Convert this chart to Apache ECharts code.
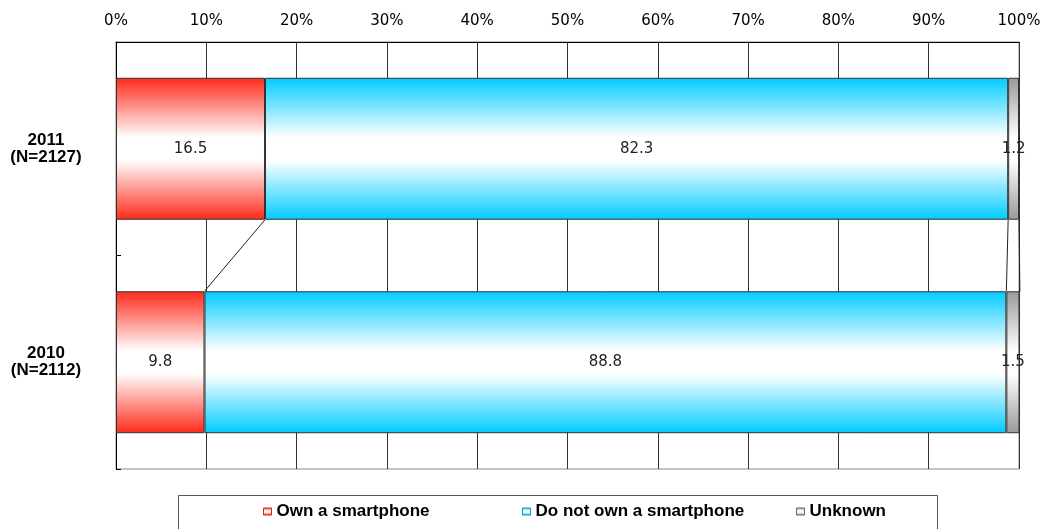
<!DOCTYPE html>
<html>
<head>
<meta charset="utf-8">
<title>Smartphone ownership</title>
<script src="https://cdn.jsdelivr.net/npm/echarts@6/dist/echarts.min.js"></script>
<style>
  html, body { margin: 0; padding: 0; background: #fff; }
  #own_chart { width: 1045px; height: 529px; }
</style>
</head>
<body>
<div id="own_chart"></div>
<script>
// data
var years = ['2011\n(N=2127)', '2010\n(N=2112)']
var seriesNames = ['Own a smartphone', 'Do not own a smartphone', 'Unknown']
var own = [16.5, 9.8]
var notOwn = [82.3, 88.8]
var unknown = [1.2, 1.5]
var pctMin = 0
var pctMax = 100
var pctStep = 10

// layout
var barRatio = 0.665
var legendLeft = [263, 522, 796]
var edgeColors = ['#ff2a1a', '#00ccff', '#999999']
var iconBorders = ['#e02010', '#1a8fc0', '#666666']

function grad(edge) {
  return new echarts.graphic.LinearGradient(0, 0, 0, 1, [
    { offset: 0, color: edge },
    { offset: 0.42, color: '#ffffff' },
    { offset: 0.58, color: '#ffffff' },
    { offset: 1, color: edge },
  ])
}

// 系列線 (cumulative ends of each segment, 2011 -> 2010)
var links = []
var acc0 = 0, acc1 = 0
;[own, notOwn, unknown].forEach(function (arr) {
  acc0 += arr[0]
  acc1 += arr[1]
  links.push([acc0, acc1, 0])
})

function renderLink(params, api) {
  var half = api.size([0, 1])[1] * barRatio / 2
  var a = api.coord([api.value(0), 0])
  var b = api.coord([api.value(1), 1])
  return {
    type: 'line',
    shape: { x1: a[0], y1: a[1] + half, x2: b[0], y2: b[1] - half },
    style: { stroke: '#222', lineWidth: 1 },
  }
}

var own_chart = echarts.init(document.getElementById('own_chart'))

var barSeries = [own, notOwn, unknown].map(function (vals, i) {
  return {
    name: seriesNames[i],
    type: 'bar',
    stack: 'total',
    barWidth: (barRatio * 100) + '%',
    data: vals,
    itemStyle: {
      color: grad(edgeColors[i]),
      borderColor: '#333',
      borderWidth: 1,
    },
    label: {
      show: true,
      position: 'inside',
      formatter: '{c}',
      fontFamily: 'DejaVu Sans',
      fontSize: 15,
      color: '#222',
    },
    emphasis: { disabled: true },
  }
})

var option = {
  animation: false,
  backgroundColor: '#fff',
  grid: {
    left: 116,
    right: 26,
    top: 42,
    bottom: 60,
    show: true,
    borderColor: '#888',
    borderWidth: 1,
    outerBoundsMode: 'none',
  },
  xAxis: {
    type: 'value',
    position: 'top',
    min: pctMin,
    max: pctMax,
    interval: pctStep,
    axisLine: { show: true, lineStyle: { color: '#000', width: 1 } },
    axisTick: { show: false },
    axisLabel: {
      formatter: '{value}%',
      fontFamily: 'DejaVu Sans',
      fontSize: 15,
      color: '#000',
      margin: 13,
      showMinLabel: true,
      showMaxLabel: true,
    },
    splitLine: { show: true, lineStyle: { color: '#333', width: 1 } },
  },
  yAxis: {
    type: 'category',
    inverse: true,
    data: years,
    axisLine: { show: true, lineStyle: { color: '#000', width: 1 } },
    axisTick: { show: true, inside: true, length: 5, lineStyle: { color: '#000' } },
    axisLabel: {
      align: 'center',
      margin: 70,
      fontFamily: 'Arial',
      fontWeight: 'bold',
      fontSize: 17,
      lineHeight: 17,
      color: '#000',
      padding: [0, 0, 4, 0],
    },
  },
  legend: seriesNames.map(function (name, i) {
    return {
      data: [{
        name: name,
        icon: 'rect',
        itemStyle: { color: grad(edgeColors[i]), borderColor: iconBorders[i], borderWidth: 1 },
      }],
      left: legendLeft[i],
      top: 503,
      padding: 0,
      itemWidth: 8,
      itemHeight: 7,
      selectedMode: false,
      textStyle: {
        fontFamily: 'Arial',
        fontWeight: 'bold',
        fontSize: 17,
        color: '#000',
      },
    }
  }),
  graphic: [
    {
      type: 'rect',
      silent: true,
      shape: { x: 178.5, y: 495.5, width: 759, height: 40 },
      style: { fill: 'none', stroke: '#555', lineWidth: 1 },
    },
  ],
  series: barSeries.concat([
    {
      type: 'custom',
      name: 'links',
      renderItem: renderLink,
      encode: { x: [0, 1], y: 2 },
      data: links,
      clip: false,
      z: 5,
      silent: true,
    },
  ]),
}

own_chart.setOption(option)

window.addEventListener('resize', function () {
  own_chart.resize()
})
</script>
</body>
</html>
